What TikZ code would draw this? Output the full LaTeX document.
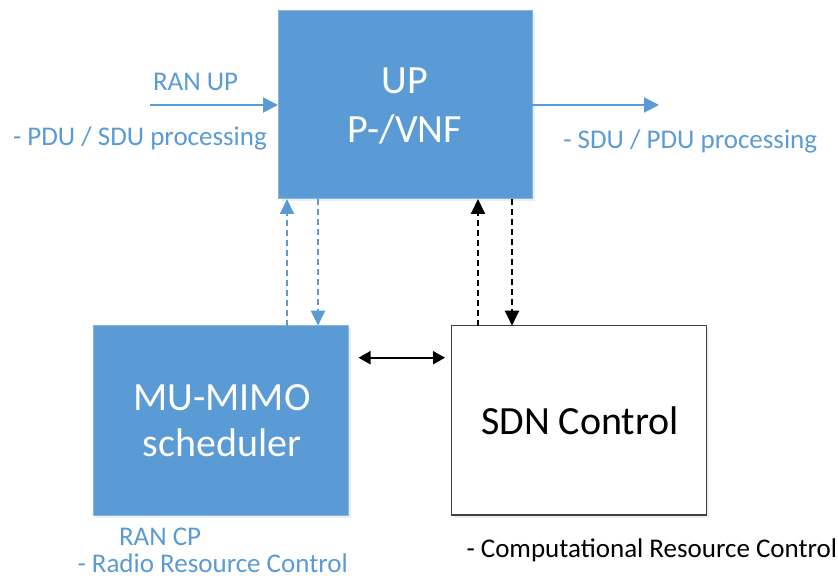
\documentclass[tikz,border=0pt]{standalone}
\usepackage{fontspec}
\setmainfont{Carlito}
\usetikzlibrary{arrows.meta,calc}
\definecolor{officeblue}{HTML}{5B9BD5}
\definecolor{blueedge}{HTML}{8DB4DC}
\definecolor{boxedge}{HTML}{404040}
\definecolor{shade}{HTML}{C9DCEE}
\tikzset{
  every node/.style={inner sep=0pt, outer sep=0pt},
  soft shadow/.style={preaction={fill=shade, opacity=0.45, transform canvas={shift={(2.5pt,-2.5pt)}}}},
  bluebox/.style={rectangle, fill=officeblue, draw=blueedge, line width=1pt,
    minimum width=254pt, minimum height=189pt, soft shadow},
  whitebox/.style={rectangle, fill=white, draw=boxedge, line width=1.3pt,
    minimum width=255pt, minimum height=189pt, soft shadow},
  boxtext/.style={font=\fontsize{40}{48}\selectfont, anchor=base},
  label/.style={font=\fontsize{27}{32}\selectfont, text=officeblue, anchor=base west},
  blacklabel/.style={font=\fontsize{27}{32}\selectfont, text=black, anchor=base west},
  flow/.style={draw=officeblue, line width=2pt, -{Triangle[length=15pt,width=15pt]}},
  bluedash/.style={draw=officeblue, line width=2pt, dash pattern=on 6pt off 4pt,
    -{Triangle[length=15pt,width=14pt]}},
  blackdash/.style={draw=black, line width=2pt, dash pattern=on 6pt off 4pt,
    -{Triangle[length=15pt,width=14pt]}},
  ctrl/.style={draw=black, line width=2pt,
    {Triangle[length=12pt,width=13pt]}-{Triangle[length=12pt,width=13pt]}}
}
\begin{document}
\begin{tikzpicture}[x=1pt,y=-1pt]
\useasboundingbox (0,0) rectangle (838,580);

% processing blocks
\node[bluebox, minimum width=254pt, minimum height=188.5pt] (up) at (405,104.75) {};
\node[bluebox, minimum width=255pt, minimum height=189.3pt] (mu) at (221,420.35) {};
\node[whitebox, minimum width=255pt, minimum height=189.3pt] (sdn) at (579,420.35) {};

% block titles
\node[boxtext, text=white] (upa) at (405,93.3) {UP};
\node[boxtext, text=white] (upb) at (405,142.7) {P-/VNF};
\node[boxtext, text=white] (mua) at (222,410) {MU-MIMO};
\node[boxtext, text=white] (mub) at (222,456.7) {scheduler};
\node[boxtext, text=black] (sdnt) at (580,434) {SDN Control};

% user-plane data flow
\coordinate (inflow) at (150,105);
\coordinate (outflow) at (659,105);
\draw[flow] (inflow) -- (up.west |- inflow);
\draw[flow] (up.east |- outflow) -- (outflow);

\node[label] (ranup) at (153,91) {RAN UP};
\node[label] (pdusdu) at (13,145.7) {- PDU / SDU processing};
\node[label] (sdupdu) at (563.3,149) {- SDU / PDU processing};

% control exchange between the blocks
\coordinate (c1) at (287,0);
\coordinate (c2) at (318,0);
\coordinate (c3) at (478,0);
\coordinate (c4) at (512,0);
\draw[bluedash] (mu.north -| c1) -- (up.south -| c1);
\draw[bluedash] (up.south -| c2) -- (mu.north -| c2);
\draw[blackdash] (sdn.north -| c3) -- (up.south -| c3);
\draw[blackdash] (up.south -| c4) -- (sdn.north -| c4);

\coordinate (link) at (0,357.7);
\draw[ctrl] ([xshift=10pt]mu.east |- link) -- ([xshift=-6.5pt]sdn.west |- link);

% plane annotations
\node[label] (rancp) at (119,545.5) {RAN CP};
\node[label] (rrc) at (77.5,572.5) {- Radio Resource Control};
\node[blacklabel] (crc) at (466.5,557.3) {- Computational Resource Control};
\end{tikzpicture}
\end{document}
